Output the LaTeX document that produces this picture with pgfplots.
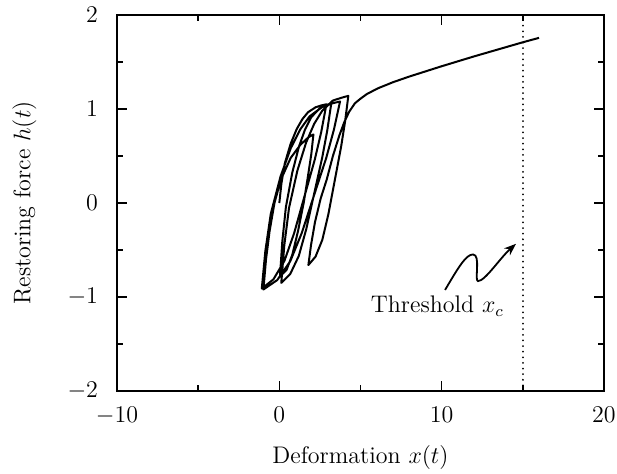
\documentclass[border=0pt]{standalone}
\usepackage{pgfplots}
\pgfplotsset{compat=1.18}
\usetikzlibrary{arrows.meta}

\newcommand{\figfont}{\fontsize{12}{14.5}\selectfont}

\begin{document}
\begin{tikzpicture}
\begin{axis}[
  scale only axis,
  width=243.5pt, height=188pt,
  xmin=-10, xmax=20, ymin=-2, ymax=2,
  xtick={-10,0,10,20}, minor xtick={-5,5,15},
  ytick={-2,-1,0,1,2}, minor ytick={-1.5,-0.5,0.5,1.5},
  major tick length=5pt, minor tick length=3pt,
  tick style={line width=0.7pt, black},
  axis line style={line width=0.9pt},
  tick label style={font=\figfont},
  xticklabel style={yshift=-4.5pt},
  yticklabel style={xshift=-6pt},
  label style={font=\figfont},
  xlabel={Deformation $x(t)$},
  ylabel={Restoring force $h(t)$},
  x label style={at={(axis description cs:0.5,-0.178)}, anchor=center},
  y label style={at={(axis description cs:-0.19,0.5)}, anchor=center},
]
\coordinate (A) at (rel axis cs:0,0);

% threshold deformation x_c
\addplot[black, line width=1pt, line cap=round, dash pattern=on 0.01pt off 2.8pt]
  coordinates {(15,-2) (15,2)};

% hysteresis trajectory h(t) versus x(t)
\addplot[black, line width=1pt, line join=round] coordinates {
  (0,0) (0.13,0.21) (0.334,0.42) (0.696,0.63) (1.073,0.7875) (1.421,0.8925)
  (1.769,0.966) (2.233,1.0185) (2.61,1.0395) (2.9,1.05)
  (2.582,0.756) (2.184,0.462) (1.547,0.07) (0.91,-0.322) (0.313,-0.616)
  (-0.364,-0.812) (-1.08,-0.91)
  (-0.863,-0.512) (-0.526,-0.114) (0.077,0.284) (0.7035,0.5825) (1.282,0.7815)
  (1.86,0.9208) (2.631,1.0203) (3.258,1.0601) (3.74,1.08)
  (3.362,0.78) (2.89,0.48) (2.135,0.08) (1.38,-0.32) (0.672,-0.62)
  (-0.13,-0.82) (-0.98,-0.92)
  (-0.82,-0.6) (-0.6,-0.3) (-0.3,0.0) (0.1,0.25) (0.7,0.48) (1.3,0.62)
  (1.8,0.7) (2.1,0.73)
  (1.97,0.52) (1.75,0.27) (1.5,0.0) (1.15,-0.3) (0.8,-0.55) (0.45,-0.71)
  (0.04,-0.78)
  (0.182,-0.412) (0.403,-0.044) (0.798,0.324) (1.209,0.60) (1.588,0.784)
  (1.968,0.913) (2.473,1.005) (2.884,1.042) (3.2,1.06)
  (2.954,0.7735) (2.646,0.487) (2.153,0.105) (1.66,-0.277) (1.198,-0.5635)
  (0.674,-0.7545) (0.12,-0.85)
  (0.306,-0.452) (0.595,-0.054) (1.111,0.344) (1.648,0.6425) (2.144,0.8415)
  (2.639,0.9808) (3.30,1.0903) (3.837,1.1201) (4.25,1.14)
  (4.053,0.87) (3.807,0.60) (3.414,0.24) (3.02,-0.12) (2.651,-0.39)
  (2.233,-0.57) (1.79,-0.66)
  (1.95,-0.45) (2.2,-0.2) (2.55,0.05) (2.92,0.25) (3.3,0.5) (3.7,0.72)
  (4.0,0.86) (4.3,0.97) (4.65,1.06) (5.0,1.11) (5.4,1.16) (6.07,1.22)
  (7.0,1.285) (8,1.345) (10,1.455) (12,1.56) (14,1.66) (15,1.71) (16,1.757)
};

% annotation
\node[anchor=west, inner sep=0pt, font=\figfont] at (axis cs:5.62,-1.10) {Threshold $x_c$};
\draw[line width=0.9pt, -{Stealth[length=6pt,width=4.5pt]}]
  (axis cs:10.21,-0.925)
  .. controls (axis cs:11.01,-0.69) and (axis cs:11.50,-0.547) .. (axis cs:11.93,-0.547)
  .. controls (axis cs:12.43,-0.547) and (axis cs:12.0,-0.831) .. (axis cs:12.24,-0.831)
  .. controls (axis cs:12.67,-0.831) and (axis cs:13.6,-0.584) .. (axis cs:14.58,-0.434);
\end{axis}
\pgfresetboundingbox
\path (A) ++(-58.5pt,-41pt) rectangle ++(308.5pt,236.5pt);
\end{tikzpicture}
\end{document}
